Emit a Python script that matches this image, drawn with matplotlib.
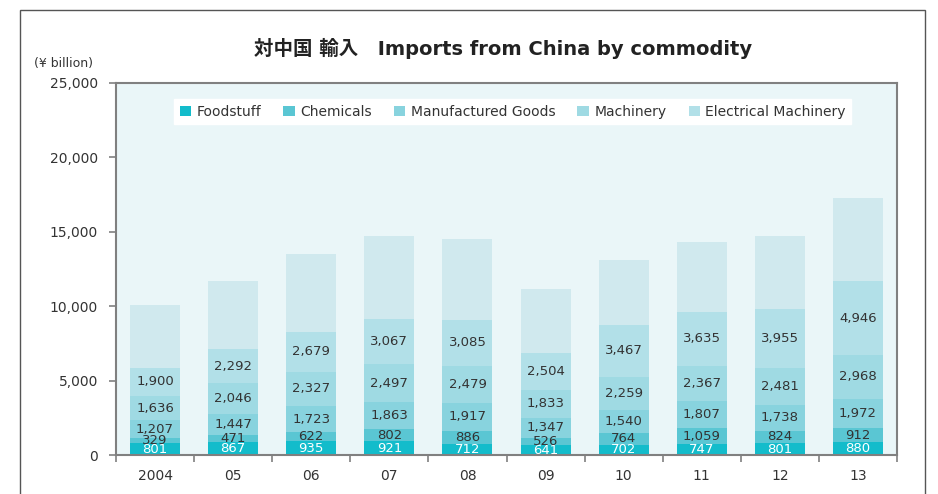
import matplotlib
matplotlib.use("Agg")
import matplotlib.pyplot as plt
from matplotlib.patches import Rectangle
import numpy as np

years = ["2004", "05", "06", "07", "08", "09", "10", "11", "12", "13"]
foodstuff = [801, 867, 935, 921, 712, 641, 702, 747, 801, 880]
chemicals = [329, 471, 622, 802, 886, 526, 764, 1059, 824, 912]
manufactured = [1207, 1447, 1723, 1863, 1917, 1347, 1540, 1807, 1738, 1972]
machinery = [1636, 2046, 2327, 2497, 2479, 1833, 2259, 2367, 2481, 2968]
electrical = [1900, 2292, 2679, 3067, 3085, 2504, 3467, 3635, 3955, 4946]
others = [4227, 4577, 5214, 5570, 5441, 4299, 4368, 4685, 4921, 5582]

names = ["Foodstuff", "Chemicals", "Manufactured Goods", "Machinery",
         "Electrical Machinery"]
colors = ["#13BCCB", "#5AC6D3", "#88D3DE", "#9FDAE3", "#B2E0E8", "#D0E9EE"]

series = [foodstuff, chemicals, manufactured, machinery, electrical, others]

fig = plt.figure(figsize=(9.38, 4.94), dpi=100)
ax = fig.add_axes([116/938, 1-455/494, (897-116)/938, (455-83)/494])
ax.set_facecolor("#EAF6F8")

x = np.arange(len(years))
bottom = np.zeros(len(years))
for i, vals in enumerate(series):
    label = names[i] if i < len(names) else None
    ax.bar(x, vals, 0.64, bottom=bottom, color=colors[i], label=label)
    # value labels for all but the top segment
    if i < 5:
        for xi, v, b in zip(x, vals, bottom):
            ax.text(xi, b + v / 2, f"{v:,}", ha="center", va="center",
                    fontsize=9.5, color="white" if i == 0 else "#333333")
    bottom += vals

ax.set_xlim(-0.5, 9.5)
ax.set_ylim(0, 25000)
ax.set_yticks(range(0, 25001, 5000))
ax.set_yticklabels([f"{v:,}" for v in range(0, 25001, 5000)])
ax.set_xticks(x)
ax.set_xticklabels(years)
ax.set_xticks(np.arange(-0.5, 10, 1), minor=True)
ax.tick_params(axis="x", which="major", length=0, pad=10, labelsize=10,
               colors="#333333")
ax.tick_params(axis="x", which="minor", length=5, color="#808080", width=1.2)
ax.tick_params(axis="y", length=5, color="#808080", width=1.2, labelsize=10,
               labelcolor="#333333", pad=8)
for s in ax.spines.values():
    s.set_color("#808080")
    s.set_linewidth(1.5)

leg = ax.legend(loc="upper center", bbox_to_anchor=(0.508, 0.975), ncol=5,
                fontsize=10, frameon=True, fancybox=False, framealpha=1,
                edgecolor="white", handlelength=0.8, handleheight=0.8,
                handletextpad=0.4, columnspacing=1.6, borderpad=0.4)
for t in leg.get_texts():
    t.set_color("#333333")

fig.text(503/938, 1-48/494, "対中国 輸入\u3000Imports from China by commodity",
         ha="center", va="center", fontsize=14, fontweight="bold",
         color="#222222", family=["DejaVu Sans", "Noto Sans CJK JP"])
fig.text(63/938, 1-64/494, "(¥ billion)", ha="center", va="center",
         fontsize=9, color="#333333")

fig.patches.append(Rectangle((20/938, -0.05), (925-20)/938, 1.05-10/494,
                             transform=fig.transFigure, fill=False,
                             edgecolor="#555555", linewidth=1))

fig.savefig("out.png", dpi=100)
